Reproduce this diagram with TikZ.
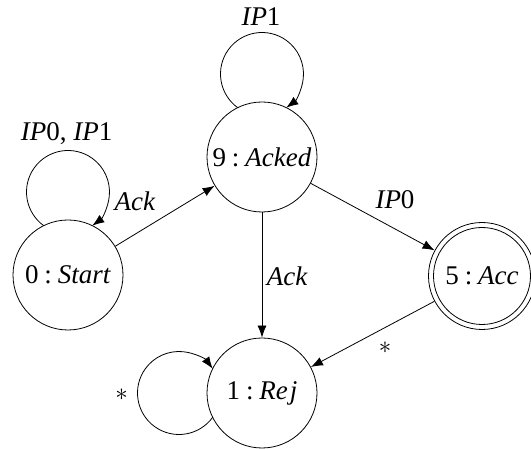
\documentclass[tikz,border=0pt]{standalone}
\usepackage{fontspec}
\setmainfont{Liberation Serif}
\newfontfamily\lserif{Liberation Serif}
\usetikzlibrary{arrows.meta,calc}
\tikzset{
  state/.style={circle,draw,line width=0.8pt,minimum size=110pt,inner sep=0pt,font=\lserif\fontsize{27}{30}\selectfont},
  accstate/.style={state,minimum size=107pt},
  lbl/.style={font=\lserif\fontsize{27}{30}\selectfont,inner sep=0pt},
  conn/.style={line width=0.8pt,-{Latex[length=12pt,width=9pt]}},
}
\newcommand{\colsep}{\hspace{0.22em}:\hspace{0.22em}}
\begin{document}
\begin{tikzpicture}[x=1pt,y=1pt]
\useasboundingbox (0,0) rectangle (531,449);
\node[state] (start) at (68,174) {0\colsep\textit{Start}};
\node[state] (acked) at (262,292) {9\colsep\textit{Acked}};
\node[accstate] (acc) at (482,173) {5\colsep\textit{Acc}};
\draw[line width=0.8pt] (acc) circle (48.5pt);
\node[state] (rej) at (262,56) {1\colsep\textit{Re\kern2pt j}};
% edges
\draw[conn] (start) -- (acked);
\draw[conn] (acked) -- (acc);
\draw[conn] (acked) -- (rej);
\draw[conn] (acc) -- (rej);
% loops
\draw[conn] (start) ++(90:83) ++(234.2:41.5) arc[start angle=234.2, end angle=-54.2, radius=41.5];
\draw[conn] (acked) ++(90:83) ++(234.2:41.5) arc[start angle=234.2, end angle=-54.2, radius=41.5];
\draw[conn] (rej) ++(180:83) ++(324.2:41.5) arc[start angle=324.2, end angle=35.8, radius=41.5];
% labels
\node[lbl] (l1) at (66.7,315.7) {\textit{IP}0, \textit{IP}1};
\node[lbl] (l2) at (135,247.3) {\textit{Ack}};
\node[lbl] (l3) at (261,432) {\textit{IP}1};
\node[lbl] (l4) at (395,249) {\textit{IP}0};
\node[lbl] (l5) at (287.3,172.3) {\textit{Ack}};
\node[lbl] (l6) at (385,101) {$\ast$};
\node[lbl] (l7) at (121.7,54) {$\ast$};
\end{tikzpicture}
\end{document}
